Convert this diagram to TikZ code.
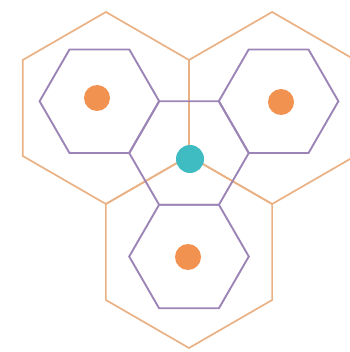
\documentclass[tikz,border=0pt]{standalone}
\usepackage{tikz}
\usetikzlibrary{positioning}
\definecolor{cellOrange}{HTML}{E9B184}
\definecolor{cellPurple}{HTML}{9C85B6}
\definecolor{siteOrange}{HTML}{F29250}
\definecolor{hubTeal}{HTML}{3FBCC2}

\begin{document}
\begin{tikzpicture}[x=1pt, y=-1pt,
  bigcell/.style={draw=cellOrange, line width=1.7pt},
  smallcell/.style={draw=cellPurple, line width=1.9pt},
  site/.style={circle, fill=siteOrange, minimum size=26pt, inner sep=0pt},
  hub/.style={circle, fill=hubTeal, minimum size=28pt, inner sep=0pt}]
  \useasboundingbox (0,0) rectangle (349,352);

  % large cells, meeting at the hub
  \foreach \cx/\cy in {105.9/108, 272.1/108, 189/252}
    \draw[bigcell] (\cx,\cy) +(90:96) -- +(150:96) -- +(210:96) -- +(270:96)
      -- +(330:96) -- +(30:96) -- cycle;

  % small cells
  \foreach \cx/\cy in {189/153, 99.4/101.25, 278.6/101.25, 189/256.5}
    \draw[smallcell] (\cx,\cy) +(0:59.8) -- +(60:59.8) -- +(120:59.8)
      -- +(180:59.8) -- +(240:59.8) -- +(300:59.8) -- cycle;

  % sites and hub
  \node[site] (siteL) at (97,98) {};
  \node[site] (siteR) at (281,102) {};
  \node[site] (siteB) at (188,257) {};
  \node[hub] (hub) at (190,159) {};
\end{tikzpicture}
\end{document}
